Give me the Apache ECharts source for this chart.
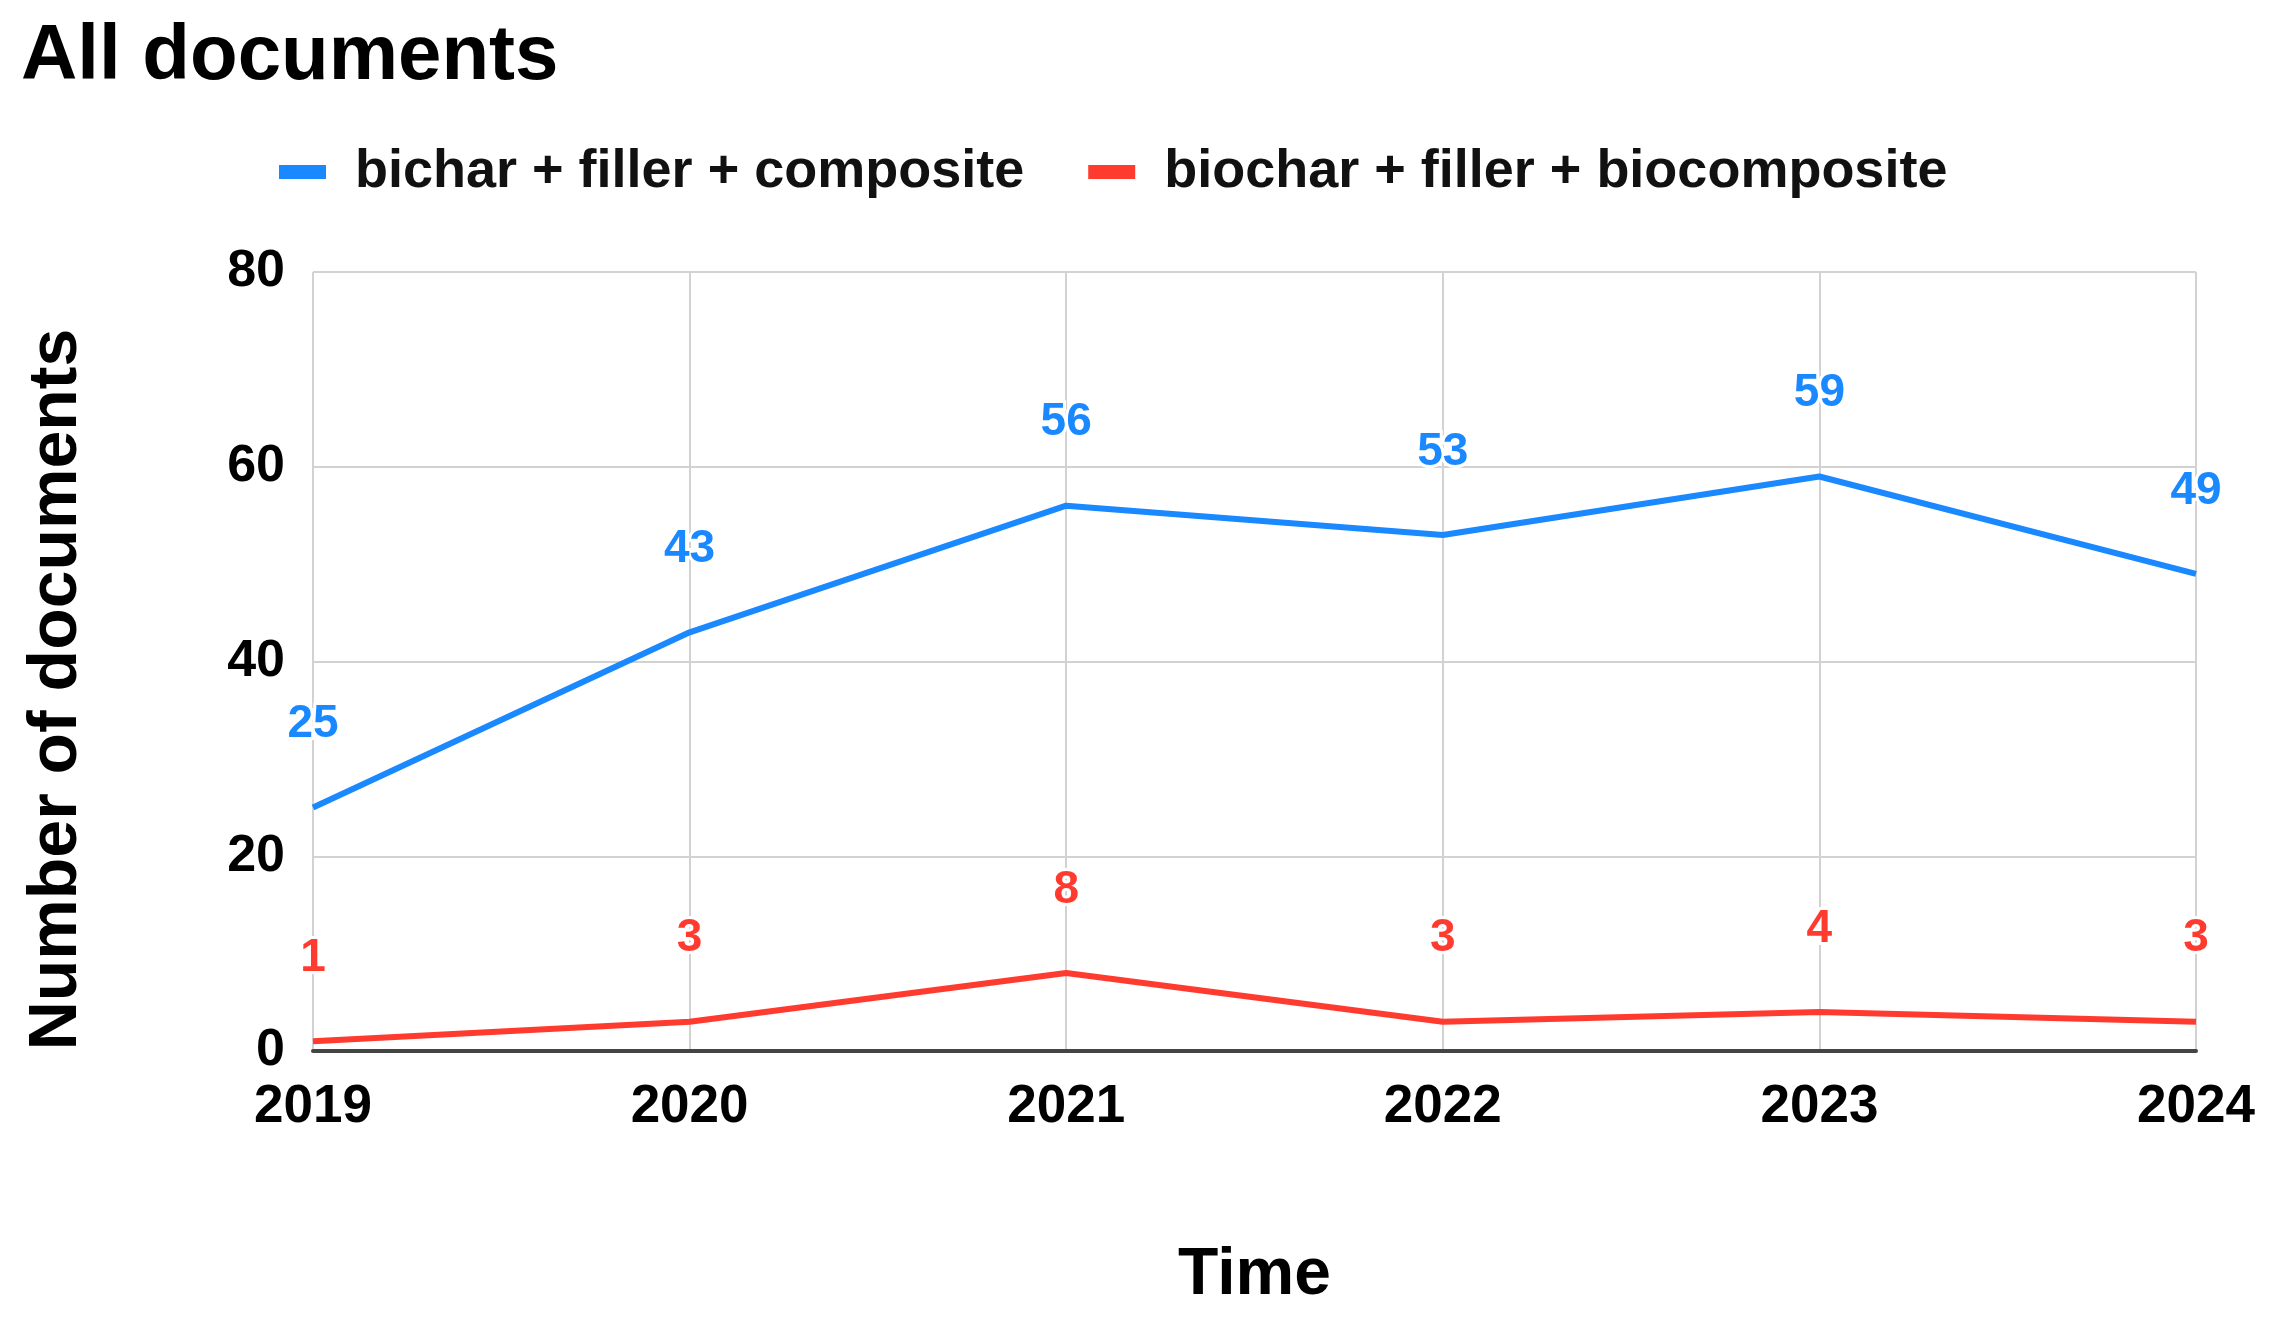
<!DOCTYPE html>
<html>
<head>
<meta charset="utf-8">
<title>All documents</title>
<script src="https://cdn.jsdelivr.net/npm/echarts@6/dist/echarts.min.js"></script>
<style>
 html, body { margin: 0; padding: 0; background: #fff; }
 #chart { width: 2270px; height: 1320px; }
</style>
</head>
<body>
<div id="chart"></div>
<script>
const years = ['2019', '2020', '2021', '2022', '2023', '2024']
const composite = [25, 43, 56, 53, 59, 49]
const biocomposite = [1, 3, 8, 3, 4, 3]
const seriesNames = ['bichar + filler + composite', 'biochar + filler + biocomposite']

const FONT = '"Liberation Sans", Arial, sans-serif'
const BLUE = '#1a88ff'
const RED = '#ff3b30'

// labels need a symbol to hang on, so keep it but make it zero-sized
const lineSeries = (name, data, color) => ({
 name: name,
 type: 'line',
 data: data,
 showSymbol: true,
 symbol: 'circle',
 symbolSize: 0,
 lineStyle: { color: color, width: 6 },
 itemStyle: { color: color },
 label: {
  show: true,
  position: 'top',
  distance: 60,
  color: color,
  fontFamily: FONT,
  fontWeight: 'bold',
  fontSize: 46,
  textBorderColor: '#fff',
  textBorderWidth: 6
 }
})

const chart = echarts.init(document.getElementById('chart'))
chart.setOption({
 backgroundColor: '#fff',
 animation: false,
 title: {
  text: 'All documents',
  left: 16,
  top: 13,
  textStyle: { fontFamily: FONT, fontWeight: 'bold', fontSize: 78, color: '#000' }
 },
 legend: {
  left: 274,
  top: 140,
  itemWidth: 47,
  itemHeight: 14,
  itemGap: 64,
  icon: 'rect',
  data: seriesNames,
  textStyle: {
   fontFamily: FONT, fontWeight: 'bold', fontSize: 54, color: '#111',
   padding: [0, 0, 0, 24]
  }
 },
 grid: { left: 313, right: 74, top: 272, bottom: 269, containLabel: false },
 xAxis: {
  type: 'category',
  data: years,
  boundaryGap: false,
  name: 'Time',
  nameLocation: 'middle',
  nameGap: 192,
  nameTextStyle: { fontFamily: FONT, fontWeight: 'bold', fontSize: 66, color: '#000' },
  axisLine: { show: true, lineStyle: { color: '#444', width: 4 } },
  axisTick: { show: false },
  axisLabel: { margin: 30, fontFamily: FONT, fontWeight: 'bold', fontSize: 53, color: '#000' },
  splitLine: { show: true, lineStyle: { color: '#d2d2d2', width: 2 } }
 },
 yAxis: {
  type: 'value',
  min: 0,
  max: 80,
  interval: 20,
  name: 'Number of documents',
  nameLocation: 'middle',
  nameGap: 222,
  nameTextStyle: {
   fontFamily: FONT, fontWeight: 'bold', fontSize: 68, color: '#000',
   padding: [0, 56, 0, 0]
  },
  axisLine: { show: false },
  axisTick: { show: false },
  axisLabel: { margin: 28, fontFamily: FONT, fontWeight: 'bold', fontSize: 52, color: '#000' },
  splitLine: { show: true, lineStyle: { color: '#d2d2d2', width: 2 } }
 },
 series: [
  lineSeries(seriesNames[0], composite, BLUE),
  lineSeries(seriesNames[1], biocomposite, RED)
 ]
})
</script>
</body>
</html>
